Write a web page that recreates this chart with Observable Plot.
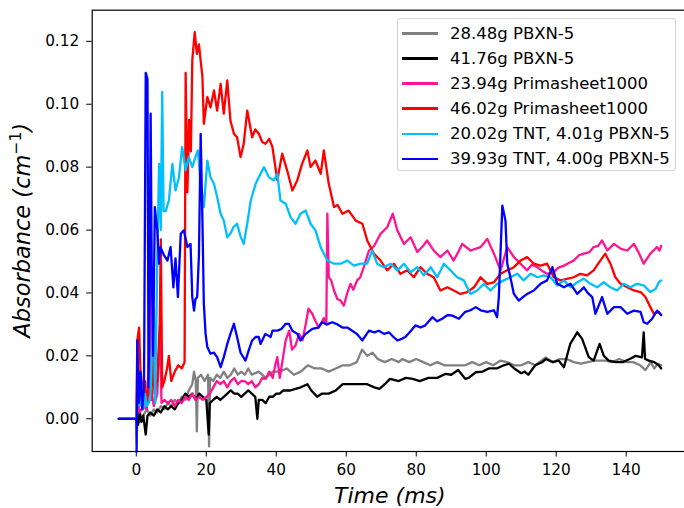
<!DOCTYPE html>
<html>
<head>
<meta charset="utf-8">
<script src="https://cdn.jsdelivr.net/npm/d3@7"></script>
<script src="https://cdn.jsdelivr.net/npm/@observablehq/plot@0.6"></script>
<style>
  html, body { margin: 0; padding: 0; background: white; overflow: hidden; }
  #wrap { position: relative; width: 684px; height: 508px; overflow: hidden; font-family: "DejaVu Sans", sans-serif; }
  #wrap svg { max-width: none !important; width: 700px !important; height: 508px !important; }
  #legend { position: absolute; left: 396.5px; top: 18px; width: 279px; height: 153px; border: 1px solid #d0d0d0; border-radius: 3px; background: rgba(255,255,255,0.8); box-sizing: border-box; }
  .row { position: absolute; left: 0; height: 20px; display: flex; align-items: center; font-size: 16.5px; color: #000; white-space: nowrap; }
  .sw { display: inline-block; width: 36px; height: 2.3px; margin-left: 4.5px; margin-right: 12px; }
</style>
</head>
<body>
<div id="wrap"></div>
<script>
// ---------- data (time in ms, absorbance in cm^-1) ----------
const labels = ["28.48g PBXN-5", "41.76g PBXN-5", "23.94g Primasheet1000", "46.02g Primasheet1000", "20.02g TNT, 4.01g PBXN-5", "39.93g TNT, 4.00g PBXN-5"];
const colors = ["#808080", "#000000", "#ff1493", "#ff0000", "#00bfff", "#0000ff"];
const xTicks = [0, 20, 40, 60, 80, 100, 120, 140];
const yTicks = [0, 0.02, 0.04, 0.06, 0.08, 0.10, 0.12];

const pbxn28 = [[-5,0],[0,0],[0.5,0.002],[1,-0.001],[2,0.001],[3,0.003],[4,0.001],[5,0.003],[6,0.002],[7,0.004],[8,0.003],[9,0.005],[10,0.004],[11,0.006],[12,0.005],[13,0.007],[14,0.006],[15,0.009],[16,0.011],[16.5,0.015],[17,0.012],[17.3,-0.004],[17.6,0.013],[18.5,0.014],[19.5,0.012],[20.5,0.014],[20.8,-0.0088],[21.1,0.013],[22,0.012],[23,0.014],[24,0.013],[25,0.015],[26,0.013],[27,0.014],[28,0.016],[29,0.014],[30,0.015],[31,0.014],[32,0.016],[33,0.014],[35,0.015],[37,0.013],[39,0.015],[41,0.015],[43,0.016],[45,0.014],[47,0.015],[49,0.017],[51,0.016],[53,0.016],[55,0.015],[57,0.016],[59,0.017],[61,0.017],[63,0.018],[64.5,0.022],[66,0.020],[67.5,0.021],[69,0.019],[71,0.018],[73,0.019],[75,0.018],[76,0.019],[78,0.018],[80,0.019],[82,0.018],[84,0.017],[86,0.018],[88,0.017],[90,0.017],[92,0.017],[94,0.017],[96,0.018],[98,0.017],[100,0.018],[102,0.017],[104,0.0185],[106,0.018],[108,0.017],[110,0.017],[112,0.018],[114,0.017],[117,0.0195],[119,0.018],[121,0.019],[123,0.019],[125,0.018],[127,0.0175],[129,0.018],[131,0.0185],[134,0.0185],[136,0.018],[138,0.019],[140,0.018],[142,0.018],[144,0.017],[145.5,0.0155],[147,0.018],[148,0.016],[149,0.0175],[150,0.017]];

const pbxn41 = [[-5,0],[0,0],[0.5,-0.002],[1,0.002],[1.5,-0.001],[2,0.001],[2.7,-0.005],[3.2,0.001],[4,0.002],[5,0.001],[6,0.003],[7,0.002],[8,0.004],[9,0.003],[10,0.004],[11,0.003],[12,0.005],[13,0.006],[14,0.008],[15,0.007],[16,0.008],[17,0.006],[18,0.008],[19,0.007],[20,0.006],[20.7,-0.005],[21,0.005],[22,0.006],[23,0.007],[24,0.006],[25,0.007],[26,0.008],[27,0.009],[28,0.008],[29,0.008],[30,0.007],[31,0.008],[32,0.009],[33,0.008],[34,0.007],[34.6,0.0],[35,0.006],[36,0.006],[37,0.005],[38,0.007],[39,0.007],[40,0.008],[41,0.008],[42,0.009],[43,0.009],[44,0.009],[45.5,0.0095],[47,0.01],[48.9,0.011],[50,0.009],[51.7,0.007],[53,0.008],[55,0.008],[57,0.009],[59,0.011],[61,0.011],[63.5,0.011],[66,0.011],[68,0.01],[69.5,0.0095],[71,0.011],[72.5,0.0127],[75,0.012],[77,0.013],[79,0.0127],[81,0.012],[83.5,0.013],[86,0.013],[88.4,0.0143],[90,0.014],[92,0.0155],[94,0.0127],[95,0.013],[97,0.0148],[99,0.015],[100.7,0.016],[103,0.016],[105,0.017],[106.5,0.0175],[108,0.016],[110,0.0145],[111,0.015],[112,0.014],[114,0.017],[116,0.018],[117,0.019],[119,0.018],[120.7,0.0185],[122.2,0.0164],[124,0.0238],[126,0.0275],[127.4,0.0254],[129.3,0.0196],[130.7,0.0185],[132.4,0.0238],[133.6,0.02],[135,0.0185],[137,0.018],[139,0.018],[141,0.019],[142.7,0.02],[144.5,0.0195],[145,0.0275],[145.4,0.019],[146.5,0.0185],[148,0.018],[149.3,0.017],[150,0.016]];

const prima23 = [[-5,0],[0,0],[0.5,0.005],[1,0.002],[2,0.004],[3,0.003],[3.6,0.02],[3.9,0.057],[4.2,0.01],[5,0.004],[6,0.008],[6.8,0.03],[7.2,0.005],[8,0.006],[9,0.005],[10,0.006],[11,0.004],[12,0.006],[13,0.005],[14,0.007],[15,0.006],[16,0.008],[17,0.006],[18,0.007],[19,0.006],[20,0.007],[21,0.008],[22,0.01],[23,0.012],[24,0.011],[25,0.012],[26,0.01],[27,0.012],[28,0.013],[29,0.011],[30,0.012],[31,0.012],[32,0.011],[33,0.012],[34,0.01],[35,0.011],[36,0.013],[37,0.0127],[38,0.015],[39,0.013],[39.8,0.0175],[40.3,0.0196],[41,0.013],[42,0.02],[42.7,0.025],[43.7,0.028],[44.5,0.022],[45.5,0.0233],[46.5,0.027],[47.5,0.025],[48.4,0.030],[49.2,0.035],[50.3,0.0334],[51.2,0.031],[52.2,0.029],[53.6,0.032],[54.3,0.03],[54.6,0.0652],[55,0.045],[55.7,0.044],[56.5,0.0408],[57.5,0.038],[58.4,0.0376],[59.3,0.036],[60.3,0.04],[61.2,0.0429],[62,0.041],[63.1,0.044],[64,0.045],[65,0.0482],[66.5,0.0535],[68,0.055],[69.8,0.0588],[71.7,0.0609],[73.3,0.0652],[74.6,0.0599],[76.5,0.0556],[78.4,0.0577],[80.3,0.053],[82,0.055],[83.1,0.0567],[85,0.0535],[86.9,0.0514],[88.9,0.0535],[90.7,0.0503],[92,0.053],[93.1,0.0556],[95.5,0.0535],[98.4,0.0546],[100.3,0.0572],[102.2,0.0525],[104.1,0.0472],[106,0.0546],[107.9,0.0514],[109.8,0.0493],[111.7,0.0472],[113,0.049],[114.6,0.0482],[116,0.047],[117.4,0.0461],[119.3,0.0466],[120.5,0.048],[122.2,0.0487],[125,0.0503],[126.5,0.052],[127.9,0.0525],[129.5,0.053],[130.7,0.0546],[132,0.055],[133.1,0.0567],[134.6,0.0535],[136.5,0.0556],[138.5,0.054],[140.3,0.0535],[142.2,0.0556],[143.5,0.053],[145,0.0493],[146.9,0.0525],[148.8,0.0546],[149.5,0.0535],[150,0.055]];

const prima46 = [[-5,0],[0,0],[0.3,0.025],[0.8,0.029],[1.2,0.015],[2,0.008],[2.5,0.012],[3,0.004],[3.5,0.01],[4.3,0.006],[4.7,0.02],[5.2,0.008],[6,0.012],[6.7,0.03],[7,0.057],[7.4,0.01],[8,0.012],[8.8,0.016],[9.3,0.02],[10,0.012],[11,0.015],[12,0.017],[13,0.016],[13.8,0.018],[14.1,0.11],[14.6,0.072],[15.1,0.095],[15.6,0.085],[16,0.114],[16.7,0.1229],[17.3,0.116],[17.9,0.119],[18.9,0.1086],[19.3,0.0938],[20.3,0.1023],[21.2,0.099],[22.2,0.1044],[23.1,0.098],[24.1,0.1065],[25,0.097],[26,0.1076],[26.9,0.0948],[27.9,0.0906],[28.8,0.0895],[29.8,0.0832],[30.7,0.0874],[31.7,0.098],[32.2,0.095],[33.1,0.0895],[34,0.092],[35,0.0906],[36,0.088],[36.9,0.0874],[38,0.089],[38.9,0.0864],[40.3,0.0758],[41.7,0.0843],[43.1,0.079],[44.6,0.0726],[46,0.0758],[47.4,0.0811],[48.9,0.0853],[49.8,0.08],[51.2,0.0821],[52.7,0.0779],[53.6,0.0853],[55,0.0747],[56.5,0.0673],[57.5,0.068],[58.9,0.0652],[60.7,0.0662],[62.7,0.063],[64.6,0.062],[66,0.0567],[67.9,0.0525],[69.8,0.0503],[71.7,0.0472],[73.6,0.0493],[75.5,0.0461],[77.4,0.0472],[79.3,0.045],[81.2,0.0482],[83.1,0.0461],[85,0.045],[86.9,0.0408],[88.9,0.0418],[90.7,0.0408],[92.6,0.0397],[94.6,0.0403],[96.5,0.0418],[98.4,0.045],[100.3,0.0429],[102.2,0.0434],[104.1,0.0461],[106,0.0472],[107.9,0.0482],[109.8,0.0503],[111.7,0.0514],[113.6,0.0493],[115.5,0.0487],[117.4,0.0493],[119.3,0.045],[121.2,0.044],[123.1,0.0445],[125,0.045],[126.9,0.0461],[128.8,0.0456],[130.7,0.0472],[132.6,0.0503],[134,0.0525],[135.5,0.0493],[136.9,0.045],[138.4,0.0429],[140.3,0.0418],[142.2,0.0408],[144.1,0.0403],[145.5,0.0387],[146.9,0.0355],[147.9,0.0334],[149.3,0.034],[150,0.033]];

const tnt20 = [[-5,0],[0,0],[0.5,0.012],[1,0.004],[1.5,0.01],[2,0.003],[2.5,0.008],[3,0.004],[4,0.006],[4.6,0.025],[5,0.035],[5.4,0.005],[6,0.05],[6.5,0.081],[7,0.06],[7.4,0.1039],[7.8,0.066],[8.4,0.066],[9.3,0.0694],[10.3,0.081],[11.2,0.0726],[12.2,0.0768],[13.1,0.0864],[14.1,0.079],[15,0.0832],[16,0.08],[16.9,0.0832],[17.6,0.0853],[18.4,0.0747],[19.3,0.0673],[20.3,0.0821],[21.2,0.0768],[22.2,0.0747],[23.1,0.0705],[24.1,0.0652],[25,0.063],[26,0.0577],[26.9,0.0588],[27.8,0.061],[28.8,0.062],[29.8,0.058],[30.7,0.0556],[31.7,0.062],[32.7,0.0694],[34.1,0.0747],[35.5,0.0779],[36.5,0.08],[37.9,0.0768],[39.3,0.0758],[40.3,0.0779],[41.2,0.0694],[42.7,0.0684],[44.1,0.0641],[45.5,0.062],[46.9,0.0652],[48.4,0.0662],[49.8,0.062],[51.2,0.0599],[52.7,0.0545],[54.6,0.0503],[56.5,0.0493],[58.4,0.0493],[60.3,0.0503],[62.2,0.0487],[64.1,0.0493],[66,0.0493],[67.4,0.0535],[68.8,0.0493],[70.7,0.0482],[72.7,0.0493],[74.6,0.0472],[76.5,0.0493],[78.4,0.0466],[80.3,0.0482],[82.2,0.0456],[84.1,0.0482],[86,0.045],[87.9,0.0493],[89.8,0.0472],[91.7,0.045],[93.6,0.044],[95.5,0.0397],[97.4,0.0408],[99.3,0.0429],[101.2,0.0408],[103.1,0.0429],[105,0.044],[106.9,0.045],[108.9,0.0461],[110.7,0.044],[112.7,0.0461],[114.6,0.045],[116.5,0.0456],[118.4,0.045],[120.3,0.0424],[122.2,0.044],[124.1,0.0418],[126,0.0434],[127.9,0.0445],[129.8,0.0429],[131.7,0.0418],[133.6,0.0434],[135.5,0.0418],[137.4,0.0408],[139.3,0.0429],[141.2,0.0418],[143.1,0.0429],[145,0.0424],[146.9,0.0403],[148.4,0.0413],[149.3,0.0434],[150,0.044]];

const tnt39 = [[-5,0],[0,0],[0.1,-0.0105],[0.3,0.0249],[0.7,0.005],[1.2,0.015],[1.7,0.003],[2.2,0.01],[2.7,0.11],[3.2,0.108],[3.5,0.01],[3.8,0.04],[4.1,0.097],[4.4,0.05],[4.8,0.02],[5.3,0.0673],[6,0.06],[6.5,0.0493],[6.9,0.0546],[7.9,0.052],[8.9,0.0503],[9.8,0.0546],[10.6,0.0418],[11.2,0.051],[11.9,0.0387],[12.7,0.0588],[13.6,0.0599],[14.6,0.0546],[15.5,0.0556],[16,0.0387],[16.5,0.0344],[16.9,0.038],[17.4,0.0387],[17.9,0.052],[18.4,0.0906],[18.9,0.063],[19.3,0.0366],[19.8,0.027],[20.3,0.0228],[21.2,0.0207],[22.2,0.021],[23.1,0.0196],[24.1,0.0164],[25,0.0196],[26,0.0238],[26.9,0.027],[27.9,0.0302],[28.8,0.026],[29.8,0.021],[31.2,0.0185],[32.2,0.022],[33.1,0.0249],[34.1,0.026],[35,0.026],[35.5,0.0238],[36.9,0.027],[38.4,0.026],[38.9,0.028],[40.3,0.028],[41.5,0.0286],[42.7,0.0302],[43.6,0.0302],[44.6,0.028],[46,0.027],[46.9,0.0249],[48.4,0.027],[50.3,0.0286],[52,0.029],[53.1,0.0307],[54.5,0.03],[56,0.0307],[57.5,0.03],[58.9,0.029],[60.3,0.029],[61.7,0.028],[63,0.027],[64.6,0.0249],[66.5,0.028],[68,0.0275],[69.3,0.028],[70.8,0.027],[72.2,0.0275],[73.5,0.026],[74.6,0.0249],[76,0.0255],[76.9,0.026],[78.5,0.028],[79.8,0.0297],[81.2,0.029],[82.6,0.0297],[84.6,0.0323],[86,0.031],[87.4,0.0318],[89,0.033],[90.3,0.0328],[92.2,0.0318],[94,0.034],[95.5,0.0345],[97,0.0355],[98.4,0.0345],[100.3,0.034],[102.2,0.0345],[103.1,0.0323],[103.6,0.0387],[104.6,0.0678],[105.5,0.063],[106,0.0493],[106.9,0.045],[107.9,0.0397],[109.3,0.0376],[110.5,0.0387],[111.7,0.0397],[113.6,0.0408],[115.5,0.0429],[117.4,0.044],[118.9,0.0482],[120.3,0.0429],[122.2,0.0418],[124.1,0.0429],[126,0.0397],[127.9,0.0418],[129,0.04],[130.3,0.0387],[131.2,0.0334],[133.1,0.0387],[134.6,0.0334],[136.5,0.0355],[138.4,0.0355],[140.3,0.0334],[142.2,0.0344],[144.1,0.034],[145,0.0307],[146,0.0302],[147.4,0.0318],[148.8,0.0344],[150,0.033]];

const seriesData = [pbxn28, pbxn41, prima23, prima46, tnt20, tnt39];

// ---------- chart ----------
const chart = Plot.plot({
  width: 700,
  height: 508,
  marginLeft: 91.7,
  marginRight: 12,
  marginTop: 9.7,
  marginBottom: 57,
  style: { fontFamily: "DejaVu Sans", fontSize: "15.3px", color: "#000", background: "white", maxWidth: "none" },
  x: { domain: [-12.6, 157.8], ticks: xTicks, tickFormat: d => String(d), label: null, tickSize: 5.5, tickPadding: 7 },
  y: { domain: [-0.0104, 0.1299], ticks: yTicks, tickFormat: d3.format(".2f"), label: null, tickSize: 5.5, tickPadding: 7.5 },
  marks: [
    ...seriesData.map((data, i) => Plot.line(data, { x: d => d[0], y: d => d[1], stroke: colors[i], strokeWidth: 2.3, strokeLinejoin: "round" })),
    Plot.frame({ stroke: "#000", strokeWidth: 1.2 })
  ]
});

const wrap = document.getElementById("wrap");
wrap.appendChild(chart);

// axis titles positioned from the chart's own scales
const sx = chart.scale("x"), sy = chart.scale("y");
const svg = d3.select(chart);
const [x0, x1] = sx.range;
const [y0, y1] = sy.range;
svg.append("text")
  .attr("x", (x0 + x1) / 2).attr("y", 503)
  .attr("text-anchor", "middle")
  .attr("font-family", "DejaVu Sans").attr("font-style", "italic").attr("font-size", 22)
  .text("Time (ms)");
const yl = svg.append("text")
  .attr("transform", `translate(30,${(y0 + y1) / 2}) rotate(-90)`)
  .attr("text-anchor", "middle")
  .attr("font-family", "DejaVu Sans").attr("font-style", "italic").attr("font-size", 22.5);
yl.append("tspan").text("Absorbance (cm");
yl.append("tspan").attr("font-size", 15.5).attr("dy", -9).attr("font-style", "normal").text("\u22121");
yl.append("tspan").attr("dy", 9).text(")");

// legend
const legend = document.createElement("div");
legend.id = "legend";
labels.forEach((lab, i) => {
  const row = document.createElement("div");
  row.className = "row";
  row.style.top = (4.5 + i * 25.05) + "px";
  const sw = document.createElement("span");
  sw.className = "sw";
  sw.style.background = colors[i];
  row.appendChild(sw);
  row.appendChild(document.createTextNode(lab));
  legend.appendChild(row);
});
wrap.appendChild(legend);
</script>
</body>
</html>
